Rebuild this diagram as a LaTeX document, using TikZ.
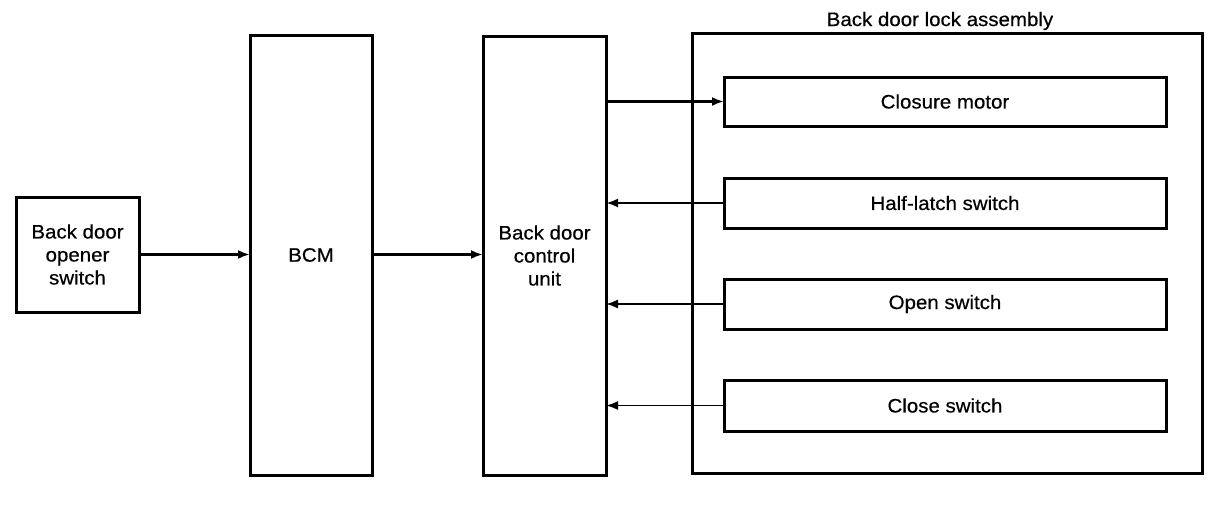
\documentclass[tikz,border=0pt]{standalone}
\usepackage{fontspec}
\setmainfont{Liberation Sans}[FakeBold=0.5,FakeStretch=1.05]
\usetikzlibrary{arrows.meta}
\begin{document}
\begin{tikzpicture}[x=1pt,y=-1pt,
  every node/.style={font=\fontsize{19.5}{23}\selectfont, align=center},
  blk/.style={draw, line width=3pt, inner sep=0pt, outer sep=0pt},
  sub/.style={blk, minimum width=442pt},
  conn/.style={line width=2.4pt, -{Latex[length=12pt,width=9pt]}},
  thinconn/.style={line width=1.7pt, -{Latex[length=12pt,width=9pt]}}]
\useasboundingbox (0,0) rectangle (1216,512);
\node[blk, minimum width=123pt, minimum height=115pt] (sw) at (77.5,254.5) {Back door\\opener\\switch};
\node[blk, minimum width=122pt, minimum height=440pt] (bcm) at (311,255) {BCM};
\node[blk, minimum width=123pt, minimum height=439pt] (cu) at (544.5,255.5) {Back door\\control\\unit};
\node[blk, minimum width=510pt, minimum height=440pt] (asm) at (947,253) {};
\node (asmlbl) at (940,21) {Back door lock assembly};
\node[sub, minimum height=49pt] (cm) at (945,101.5) {Closure motor};
\node[sub, minimum height=50pt] (hl) at (945,203) {Half-latch switch};
\node[sub, minimum height=50pt] (os) at (945,304) {Open switch};
\node[sub, minimum height=51pt] (cs) at (945,405.5) {Close switch};
\draw[conn] (sw.east) -- (sw.east -| bcm.west);
\draw[conn] (bcm.east |- sw.east) -- (cu.west |- sw.east);
\draw[conn] (cm.west -| cu.east) -- (cm.west);
\draw[conn] (hl.west) -- (hl.west -| cu.east);
\draw[thinconn] (os.west) -- (os.west -| cu.east);
\draw[thinconn] (cs.west) -- (cs.west -| cu.east);
\end{tikzpicture}
\end{document}
